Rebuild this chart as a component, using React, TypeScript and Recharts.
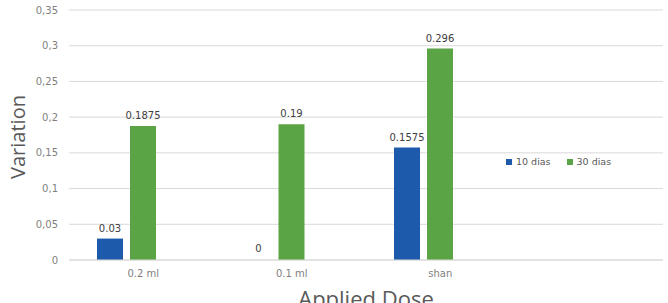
import { BarChart, Bar, XAxis, YAxis, CartesianGrid, LabelList, Rectangle } from 'recharts';

const CATEGORIES = ['0.2 ml', '0.1 ml', 'shan', ''];
const DIAS_10 = [0.03, 0, 0.1575, null];
const DIAS_30 = [0.1875, 0.19, 0.296, null];
const EMPTY_SERIES = [null, null, null, null];
const Y_TICKS = [0, 0.05, 0.1, 0.15, 0.2, 0.25, 0.3, 0.35];

const BLUE = '#1d5aac';
const GREEN = '#5aa445';
const FONT = '"DejaVu Sans", sans-serif';

const data = CATEGORIES.map((name, i) => ({
  name,
  d10: DIAS_10[i],
  d30: DIAS_30[i],
  extra: EMPTY_SERIES[i],
}));

const ValueLabel = (props: any) => {
  const { x, y, width, value } = props;
  if (value === null || value === undefined || x === undefined) return null;
  return (
    <text x={Number(x) + Number(width) / 2} y={Number(y) - 7} textAnchor="middle" fill="#404040" fontSize={10} fontFamily={FONT}>
      {String(value)}
    </text>
  );
};

// zero values get a 1px stub so the label shows, but the stub itself is not drawn
const BarShape = (key: string) => (props: any) =>
  props.payload && props.payload[key] === 0 ? <g /> : <Rectangle {...props} />;

export default function App() {
  return (
    <div style={{ position: 'absolute', left: 0, top: 0, width: 668, height: 303, background: '#fff', overflow: 'hidden' }}>
      <BarChart
        width={668}
        height={303}
        data={data}
        margin={{ top: 10, right: 5, bottom: 0, left: 0 }}
        barSize={26}
        barGap={7}
      >
        <CartesianGrid vertical={false} stroke="#d9d9d9" />
        <XAxis
          dataKey="name"
          height={43}
          axisLine={{ stroke: '#d9d9d9' }}
          tickLine={false}
          tickSize={0}
          tickMargin={10}
          tick={{ fill: '#7f7f7f', fontSize: 10, fontFamily: FONT }}
          label={{
            value: 'Applied Dose',
            position: 'insideBottom',
            offset: -4,
            fill: '#595959',
            fontSize: 22,
            fontFamily: '"Open Sans", sans-serif',
          }}
        />
        <YAxis
          width={69}
          domain={[0, 0.35]}
          ticks={Y_TICKS}
          interval={0}
          axisLine={false}
          tickLine={false}
          tickSize={0}
          tickMargin={11}
          tickFormatter={(v: number) => String(v).replace('.', ',')}
          tick={{ fill: '#7f7f7f', fontSize: 10, fontFamily: FONT }}
          label={{
            value: 'Variation',
            angle: -90,
            position: 'center',
            dx: -17,
            dy: 2,
            fill: '#595959',
            fontSize: 20,
            fontFamily: '"Open Sans", sans-serif',
          }}
        />
        <Bar dataKey="d10" name="10 dias" fill={BLUE} minPointSize={1} shape={BarShape('d10')} isAnimationActive={false}>
          <LabelList dataKey="d10" content={ValueLabel} />
        </Bar>
        <Bar dataKey="d30" name="30 dias" fill={GREEN} isAnimationActive={false}>
          <LabelList dataKey="d30" content={ValueLabel} />
        </Bar>
        <Bar dataKey="extra" name="" fill="#ffffff" legendType="none" isAnimationActive={false} />
      </BarChart>
      <div
        style={{
          position: 'absolute',
          left: 506,
          top: 156,
          display: 'flex',
          alignItems: 'center',
          fontFamily: FONT,
          fontSize: 9.5,
          color: '#595959',
          whiteSpace: 'nowrap',
        }}
      >
        <span style={{ width: 6, height: 6, background: BLUE, display: 'inline-block', marginRight: 4 }} />
        <span style={{ marginRight: 16 }}>10 dias</span>
        <span style={{ width: 6, height: 6, background: GREEN, display: 'inline-block', marginRight: 4 }} />
        <span>30 dias</span>
      </div>
    </div>
  );
}
